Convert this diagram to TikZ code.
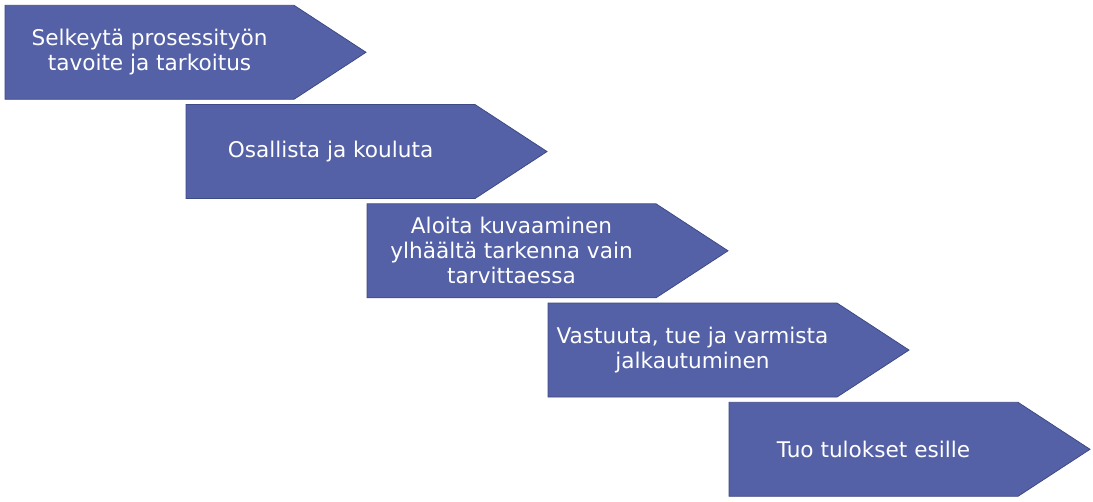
\documentclass[tikz,border=0pt]{standalone}
\usepackage{fontspec}
\setmainfont{DejaVu Sans}
\definecolor{arrfill}{HTML}{5461A7}
\definecolor{arrline}{HTML}{3E4A84}
\begin{document}
\begin{tikzpicture}[x=1pt,y=-1pt,
  arrowshape/.style={fill=arrfill,draw=arrline,line width=0.8pt},
  lbl/.style={text=white,align=center,font=\fontsize{21.6}{25}\selectfont,inner sep=0pt}]
\useasboundingbox (0,0) rectangle (1093,502);
\foreach \i in {0,...,4}{
  \pgfmathsetmacro{\xx}{5+181*\i}
  \pgfmathsetmacro{\yy}{5.3+99.25*\i}
  \draw[arrowshape] (\xx,\yy) -- ++(289,0) -- ++(72,47) -- ++(-72,47) -- ++(-289,0) -- cycle;
}
\node[lbl] (s1) at (149.5,52.3) {Selkeytä prosessityön\\tavoite ja tarkoitus};
\node[lbl] (s2) at (330.5,151.5) {Osallista ja kouluta};
\node[lbl] (s3) at (511.5,250.8) {Aloita kuvaaminen\\ylhäältä tarkenna vain\\tarvittaessa};
\node[lbl] (s4) at (692.5,350) {Vastuuta, tue ja varmista\\jalkautuminen};
\node[lbl] (s5) at (873.5,449.3) {Tuo tulokset esille};
\end{tikzpicture}
\end{document}
